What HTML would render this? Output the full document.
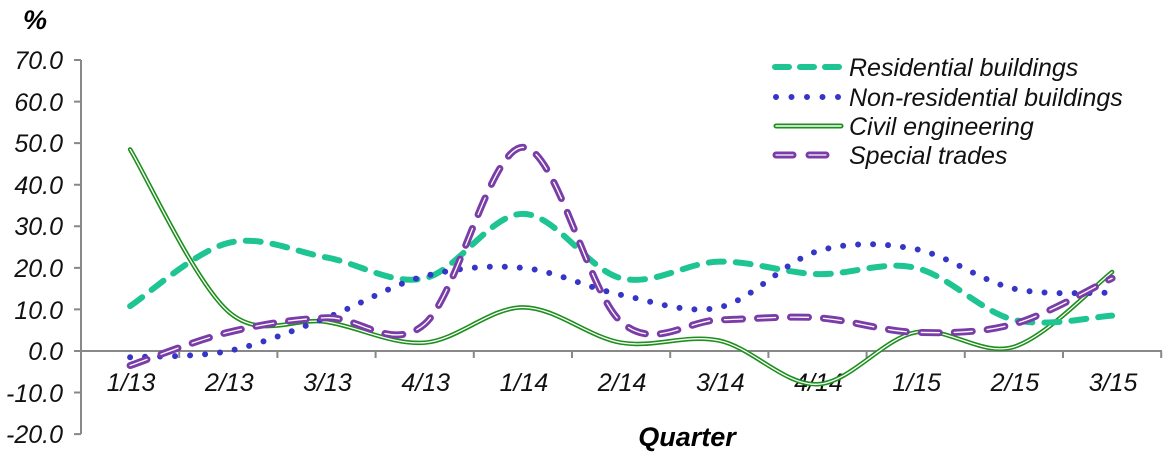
<!DOCTYPE html>
<html><head><meta charset="utf-8"><style>
body{margin:0;background:#fff;}
svg{display:block;font-family:"Liberation Sans",sans-serif;font-style:italic;}
</style></head><body>
<svg id="c" width="1169" height="460" viewBox="0 0 1169 460" xmlns="http://www.w3.org/2000/svg">
<text x="23" y="29" font-size="27" font-weight="bold">%</text>
<g font-size="25" text-anchor="end" fill="#111">
<text x="63" y="69">70.0</text><text x="63" y="111">60.0</text><text x="63" y="152">50.0</text><text x="63" y="194">40.0</text><text x="63" y="235">30.0</text><text x="63" y="277">20.0</text><text x="63" y="319">10.0</text><text x="63" y="360">0.0</text><text x="63" y="402">-10.0</text><text x="63" y="443">-20.0</text>
</g>
<g stroke="#888" stroke-width="2" fill="none">
<line x1="81" y1="60" x2="81" y2="434"/>
<line x1="81" y1="351" x2="1162" y2="351"/>
<path id="ticks" d=""/>
</g>
<g font-size="25" text-anchor="middle" fill="#111" id="xl"></g>
<text x="687" y="446" font-size="27" font-weight="bold" text-anchor="middle">Quarter</text>
<g id="series"></g>
<g font-size="25" fill="#111">
<text x="849" y="76">Residential buildings</text>
<text x="849" y="106">Non-residential buildings</text>
<text x="849" y="135">Civil engineering</text>
<text x="849" y="164">Special trades</text>
</g>
<g fill="none" stroke-linecap="round">
<line x1="775" y1="67" x2="840" y2="67" stroke="#1fc493" stroke-width="6" stroke-dasharray="14 11"/>
<line x1="776" y1="97" x2="840" y2="97" stroke="#3535c8" stroke-width="6" stroke-dasharray="0 15.5"/>
<line x1="776" y1="126" x2="841" y2="126" stroke="#1e8f1e" stroke-width="5"/>
<line x1="776" y1="126" x2="841" y2="126" stroke="#fff" stroke-width="1.5"/>
<line x1="776" y1="155" x2="826" y2="155" stroke="#7a3da8" stroke-width="7" stroke-dasharray="17 16"/>
<line x1="776" y1="155" x2="826" y2="155" stroke="#fff" stroke-width="1.3" stroke-dasharray="17 16"/>
</g>
</svg>
<script>
var NS="http://www.w3.org/2000/svg";
function X(i){return 81+98.2*(i+0.5);}
function Y(v){return 351-v*4.157;}
var t="";for(var k=1;k<=11;k++){var x=81+98.2*k;t+="M"+x+" 351V358";}
for(var k=0;k<=9;k++){var y=60+41.57*k;t+="M74 "+y+"H81";}
document.getElementById("ticks").setAttribute("d",t);
var labs=["1/13","2/13","3/13","4/13","1/14","2/14","3/14","4/14","1/15","2/15","3/15"];
var xl=document.getElementById("xl");
labs.forEach(function(l,i){var e=document.createElementNS(NS,"text");e.setAttribute("x",X(i)+1);e.setAttribute("y",391);e.textContent=l;xl.appendChild(e);});
function path(d){var p=d.map(function(v,i){return[X(i),Y(v)]});var s="M"+p[0];
for(var i=0;i<p.length-1;i++){var p0=p[i-1]||p[i],p1=p[i],p2=p[i+1],p3=p[i+2]||p2;
var c1=[p1[0]+(p2[0]-p0[0])/6,p1[1]+(p2[1]-p0[1])/6],c2=[p2[0]-(p3[0]-p1[0])/6,p2[1]-(p3[1]-p1[1])/6];
s+="C"+c1+" "+c2+" "+p2;}return s;}
var g=document.getElementById("series");
function add(d,attrs){var e=document.createElementNS(NS,"path");e.setAttribute("d",d);e.setAttribute("fill","none");e.setAttribute("stroke-linecap","round");for(var k in attrs)e.setAttribute(k,attrs[k]);g.appendChild(e);}
var res=[10.8,26,22.5,17.5,33,17.5,21.5,18.5,20,7.5,8.5];
var non=[-1.5,0,8,18,20,13.5,10.5,24,24.5,15,14];
var civ=[48.5,9.5,7,2,10.5,2,2.5,-8,4.5,1,19];
var spe=[-3.5,4.5,8,6.5,49,7,7.5,8,4.5,6.5,17.5];
add(path(civ),{stroke:"#1e8f1e","stroke-width":4.5});
add(path(civ),{stroke:"#fff","stroke-width":1.3});
add(path(res),{stroke:"#1fc493","stroke-width":6,"stroke-dasharray":"15 12"});
add(path(non),{stroke:"#3535c8","stroke-width":6,"stroke-dasharray":"0 15"});
add(path(spe),{stroke:"#7a3da8","stroke-width":7,"stroke-dasharray":"18 15"});
add(path(spe),{stroke:"#fff","stroke-width":1.3,"stroke-dasharray":"18 15"});
</script>
</body></html>
